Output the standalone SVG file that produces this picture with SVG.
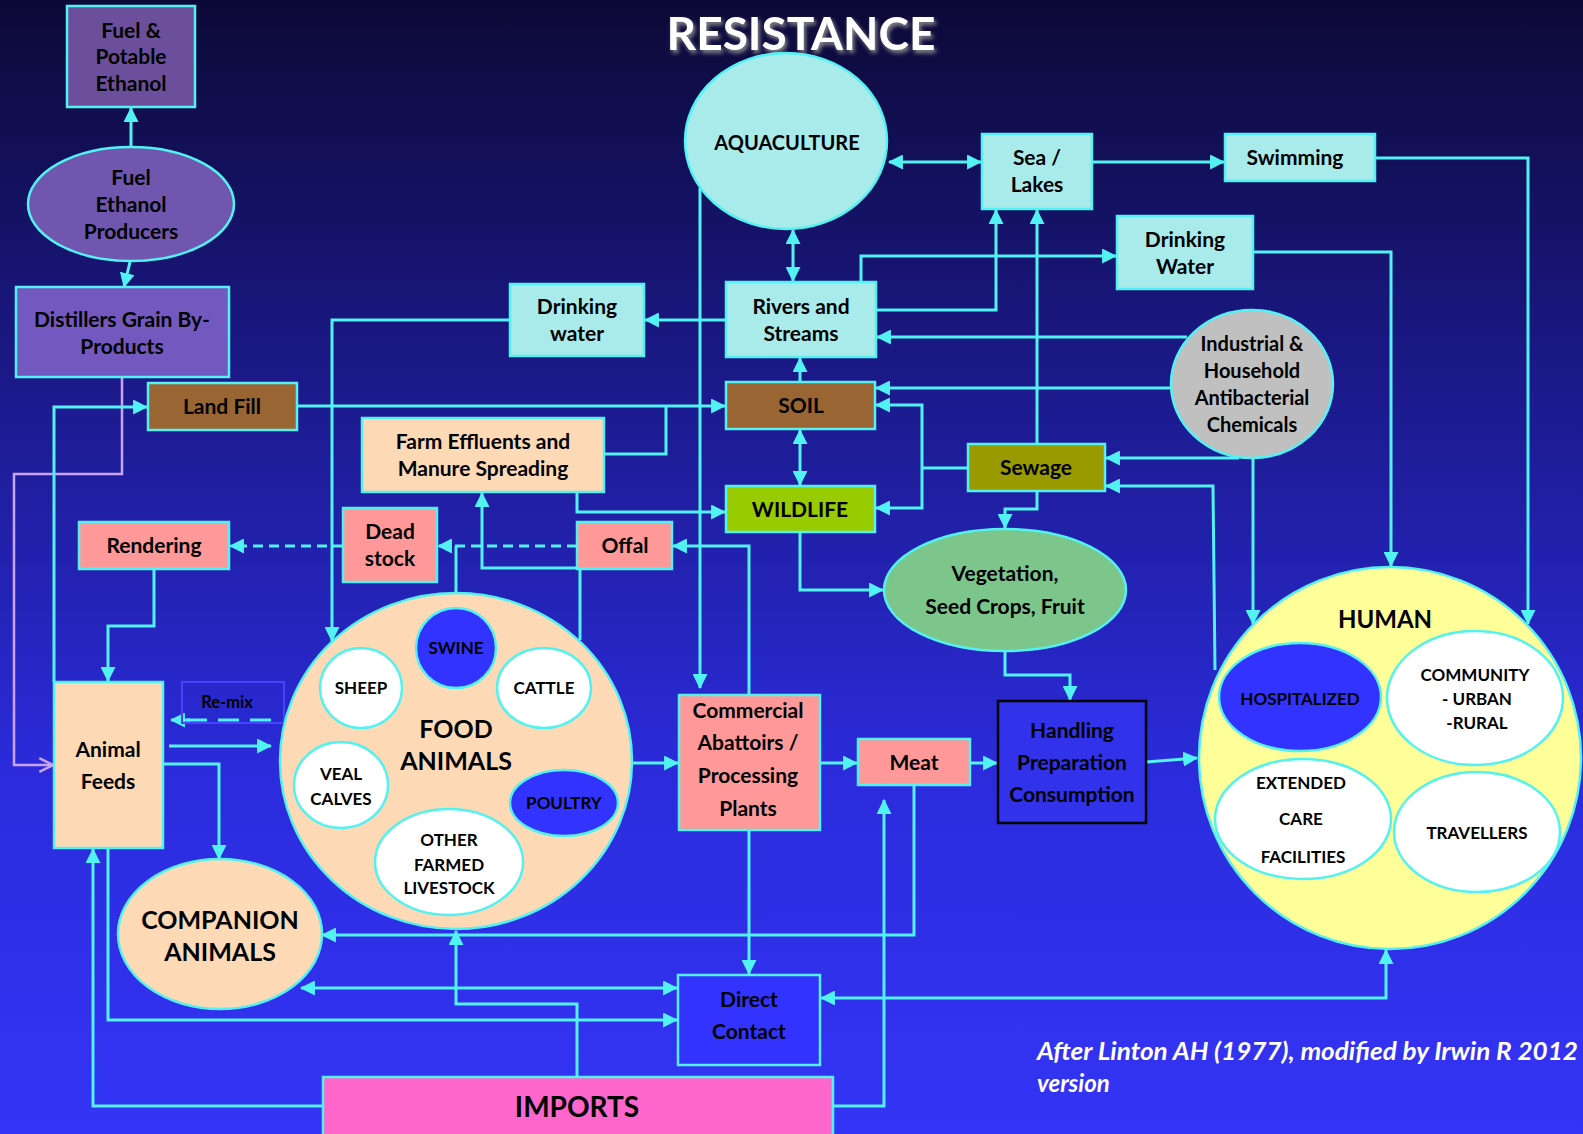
<svg xmlns="http://www.w3.org/2000/svg" width="1583" height="1134" viewBox="0 0 1583 1134">
<defs>
<linearGradient id="bg" x1="0" y1="0" x2="0" y2="1">
<stop offset="0" stop-color="#0c0936"/>
<stop offset="0.33" stop-color="#1b1988"/>
<stop offset="0.68" stop-color="#2b2bdc"/>
<stop offset="1" stop-color="#3434f6"/>
</linearGradient>
<filter id="sh" x="-10%" y="-30%" width="120%" height="160%">
<feGaussianBlur in="SourceAlpha" stdDeviation="2"/>
<feOffset dx="2" dy="3" result="b"/>
<feFlood flood-color="#888888"/>
<feComposite in2="b" operator="in"/>
<feMerge><feMergeNode/><feMergeNode in="SourceGraphic"/></feMerge>
</filter>
<marker id="a" viewBox="0 0 14 14" refX="13" refY="7" markerWidth="15" markerHeight="15" markerUnits="userSpaceOnUse" orient="auto-start-reverse">
<path d="M0,0 L14,7 L0,14 z" fill="#52f2f2"/>
</marker>
<marker id="o" viewBox="0 0 14 14" refX="13" refY="7" markerWidth="16" markerHeight="16" markerUnits="userSpaceOnUse" orient="auto">
<path d="M1,1 L13,7 L1,13" fill="none" stroke="#c9a3f5" stroke-width="2.2"/>
</marker>
<style>
.n{stroke:#52f2f2;stroke-width:2.5}
.t{font-family:Lato,'Open Sans','Liberation Sans',sans-serif;font-weight:700;fill:#000;text-anchor:middle}
.s21{font-size:21px}
.s20{font-size:20px}
.s17{font-size:17px}
.s25{font-size:25px}
.c{fill:none;stroke:#52f2f2;stroke-width:3}
.e{marker-end:url(#a)}
.b{marker-start:url(#a);marker-end:url(#a)}
.d{stroke-dasharray:10 6}
.purple1{fill:#6b4f9c}.purple2{fill:#7156b0}.purple3{fill:#7358bf}
.brown{fill:#996633}.salmon{fill:#ff9999}.peach{fill:#fdd9b5}.aqua{fill:#a9eaea}
.white{fill:#ffffff}.blue{fill:#3333ff}
.cit{font-family:Lato,'Open Sans','Liberation Sans',sans-serif;font-weight:700;font-style:italic;font-size:24px;fill:#ffffff}
</style>
</defs>
<rect x="0" y="0" width="1583" height="1134" fill="url(#bg)"/>

<text x="801" y="50" class="t" style="font-size:46px;fill:#ffffff" filter="url(#sh)">RESISTANCE</text>

<g id="connectors">
<path class="c e" d="M131,147 L131,108"/>
<path class="c e" d="M130,262 L124,287"/>
<path fill="none" stroke="#c9a3f5" stroke-width="2.5" marker-end="url(#o)" d="M122,377 L122,474 L14,474 L14,765 L53,765"/>
<path class="c e" d="M54,682 L54,407 L147,407"/>
<path class="c e" d="M297,406 L725,406"/>
<path class="c" d="M604,454 L666,454 L666,406"/>
<path class="c e" d="M577,492 L577,512 L725,512"/>
<path class="c e" d="M510,320 L332,320 L332,641"/>
<path class="c e" d="M726,320 L645,320"/>
<path class="c b" d="M793,230 L793,281"/>
<path class="c b" d="M889,162 L981,162"/>
<path class="c e" d="M1092,162 L1224,162"/>
<path class="c e" d="M1375,158 L1528,158 L1528,624"/>
<path class="c e" d="M861,282 L861,256 L1116,256"/>
<path class="c e" d="M1253,252 L1391,252 L1391,566"/>
<path class="c e" d="M876,310 L996,310 L996,210"/>
<path class="c e" d="M1187,337 L877,337"/>
<path class="c e" d="M1171,388 L876,388"/>
<path class="c e" d="M1239,458 L1106,458"/>
<path class="c e" d="M1253,458 L1253,624"/>
<path class="c e" d="M1215,670 L1213,486 L1106,486"/>
<path class="c e" d="M800,382 L800,358"/>
<path class="c b" d="M800,430 L800,485"/>
<path class="c e" d="M1037,444 L1037,210"/>
<path class="c b" d="M876,405 L922,405 L922,508 L876,508"/>
<path class="c" d="M968,468 L922,468"/>
<path class="c e" d="M1037,491 L1037,509 L1005,509 L1005,528"/>
<path class="c e" d="M800,532 L800,590 L883,590"/>
<path class="c e" d="M1005,650 L1005,675 L1070,675 L1070,700"/>
<path class="c e" d="M1146,762 L1197,758"/>
<path class="c e d" d="M343,546 L230,546"/>
<path class="c e d" d="M577,546 L438,546"/>
<path class="c" d="M456,593 L456,546"/>
<path class="c e" d="M580,640 L580,568 L482,568 L482,493"/>
<path class="c e" d="M749,695 L749,546 L673,546"/>
<path class="c e" d="M154,569 L154,626 L108,626 L108,681"/>
<path class="c" stroke-dasharray="21 11" d="M271,720 L187,720"/>
<path class="c e" d="M190,720 L171,720"/>
<path class="c e" d="M169,746 L271,746"/>
<path class="c e" d="M163,764 L219,764 L219,859"/>
<path class="c e" d="M632,763 L678,763"/>
<path class="c e" d="M700,188 L700,688"/>
<path class="c e" d="M820,763 L857,763"/>
<path class="c e" d="M970,763 L997,763"/>
<path class="c e" d="M914,785 L914,935 L322,935"/>
<path class="c b" d="M301,988 L677,988"/>
<path class="c e" d="M108,848 L108,1020 L677,1020"/>
<path class="c e" d="M323,1106 L93,1106 L93,849"/>
<path class="c e" d="M577,1077 L577,1004 L456,1004 L456,931"/>
<path class="c e" d="M833,1106 L884,1106 L884,800"/>
<path class="c e" d="M749,830 L749,974"/>
<path class="c b" d="M1386,950 L1386,998 L821,998"/>
</g>

<g id="fuel-potable"><rect class="n purple1" x="67" y="6" width="128" height="101"/>
<text class="t s21" x="131" y="38">Fuel &amp;</text><text class="t s21" x="131" y="64">Potable</text><text class="t s21" x="131" y="91">Ethanol</text></g>

<g id="fuel-producers"><ellipse class="n purple2" cx="131" cy="204" rx="103" ry="57"/>
<text class="t s21" x="131" y="185">Fuel</text><text class="t s21" x="131" y="212">Ethanol</text><text class="t s21" x="131" y="239">Producers</text></g>

<g id="distillers"><rect class="n purple3" x="16" y="287" width="213" height="90"/>
<text class="t s21" x="122" y="327">Distillers Grain By-</text><text class="t s21" x="122" y="354">Products</text></g>

<g id="landfill"><rect class="n brown" x="148" y="383" width="149" height="47"/>
<text class="t s21" x="222" y="414">Land Fill</text></g>

<g id="rendering"><rect class="n salmon" x="79" y="522" width="150" height="47"/>
<text class="t s21" x="154" y="553">Rendering</text></g>

<g id="deadstock"><rect class="n salmon" x="343" y="508" width="94" height="74"/>
<text class="t s21" x="390" y="539">Dead</text><text class="t s21" x="390" y="566">stock</text></g>

<g id="offal"><rect class="n salmon" x="577" y="522" width="95" height="47"/>
<text class="t s21" x="625" y="553">Offal</text></g>

<g id="farm-effluents"><rect class="n peach" x="362" y="418" width="242" height="74"/>
<text class="t s21" x="483" y="449">Farm Effluents and</text><text class="t s21" x="483" y="476">Manure Spreading</text></g>

<g id="drinking-water-left"><rect class="n aqua" x="510" y="284" width="134" height="72"/>
<text class="t s21" x="577" y="314">Drinking</text><text class="t s21" x="577" y="341">water</text></g>

<g id="rivers"><rect class="n aqua" x="726" y="282" width="150" height="75"/>
<text class="t s21" x="801" y="314">Rivers and</text><text class="t s21" x="801" y="341">Streams</text></g>

<g id="aquaculture"><ellipse class="n aqua" cx="786" cy="141" rx="101" ry="88"/>
<text class="t s20" x="787" y="150">AQUACULTURE</text></g>

<g id="sea-lakes"><rect class="n aqua" x="982" y="134" width="110" height="75"/>
<text class="t s21" x="1037" y="165">Sea /</text><text class="t s21" x="1037" y="192">Lakes</text></g>

<g id="swimming"><rect class="n aqua" x="1225" y="134" width="150" height="47"/>
<text class="t s21" x="1295" y="165">Swimming</text></g>

<g id="drinking-water-right"><rect class="n aqua" x="1117" y="216" width="136" height="73"/>
<text class="t s21" x="1185" y="247">Drinking</text><text class="t s21" x="1185" y="274">Water</text></g>

<g id="industrial"><ellipse class="n" fill="#c0c0c0" cx="1252" cy="384" rx="81" ry="74"/>
<text class="t s20" x="1252" y="351">Industrial &amp;</text><text class="t s20" x="1252" y="378">Household</text><text class="t s20" x="1252" y="405">Antibacterial</text><text class="t s20" x="1252" y="432">Chemicals</text></g>

<g id="soil"><rect class="n brown" x="726" y="382" width="149" height="47"/>
<text class="t s21" x="801" y="413">SOIL</text></g>

<g id="sewage"><rect class="n" fill="#999900" x="968" y="444" width="137" height="47"/>
<text class="t s21" x="1036" y="475">Sewage</text></g>

<g id="wildlife"><rect class="n" fill="#99cc00" x="726" y="486" width="149" height="46"/>
<text class="t s21" x="800" y="517">WILDLIFE</text></g>

<g id="vegetation"><ellipse class="n" fill="#7dc68b" cx="1005" cy="590" rx="121" ry="61"/>
<text class="t s21" x="1005" y="581">Vegetation,</text><text class="t s21" x="1005" y="614">Seed Crops, Fruit</text></g>

<g id="commercial"><rect class="n salmon" x="679" y="695" width="141" height="135"/>
<text class="t s21" x="748" y="718">Commercial</text><text class="t s21" x="748" y="750">Abattoirs /</text><text class="t s21" x="748" y="783">Processing</text><text class="t s21" x="748" y="816">Plants</text></g>

<g id="meat"><rect class="n salmon" x="858" y="739" width="112" height="46"/>
<text class="t s21" x="914" y="770">Meat</text></g>

<g id="handling"><rect fill="#3232ea" stroke="#000" stroke-width="2.5" x="998" y="701" width="148" height="122"/>
<text class="t s21" x="1072" y="738">Handling</text><text class="t s21" x="1072" y="770">Preparation</text><text class="t s21" x="1072" y="802">Consumption</text></g>

<g id="animal-feeds"><rect class="n peach" x="54" y="682" width="109" height="166"/>
<text class="t s21" x="108" y="757">Animal</text><text class="t s21" x="108" y="789">Feeds</text></g>

<g id="remix"><rect fill="none" stroke="#4444ff" stroke-width="2" x="182" y="682" width="102" height="41"/>
<text class="t" style="font-size:16.5px" x="227" y="708">Re-mix</text></g>

<g id="food-animals"><ellipse class="n peach" cx="456" cy="761" rx="176" ry="168"/>
<text class="t s25" x="456" y="738">FOOD</text><text class="t s25" x="456" y="770">ANIMALS</text>
<circle class="n blue" cx="456" cy="648" r="40"/><text class="t s17" x="456" y="654">SWINE</text>
<ellipse class="n white" cx="361" cy="688" rx="41" ry="40"/><text class="t s17" x="361" y="694">SHEEP</text>
<ellipse class="n white" cx="544" cy="688" rx="47" ry="40"/><text class="t s17" x="544" y="694">CATTLE</text>
<ellipse class="n white" cx="341" cy="785" rx="47" ry="43"/><text class="t s17" x="341" y="780">VEAL</text><text class="t s17" x="341" y="805">CALVES</text>
<ellipse class="n blue" cx="564" cy="803" rx="54" ry="33"/><text class="t s17" x="564" y="809">POULTRY</text>
<ellipse class="n white" cx="449" cy="862" rx="74" ry="53"/><text class="t s17" x="449" y="846">OTHER</text><text class="t s17" x="449" y="871">FARMED</text><text class="t s17" x="449" y="894">LIVESTOCK</text></g>

<g id="companion"><ellipse class="n peach" cx="220" cy="934" rx="102" ry="75"/>
<text class="t s25" x="220" y="929">COMPANION</text><text class="t s25" x="220" y="961">ANIMALS</text></g>

<g id="direct-contact"><rect class="n blue" x="678" y="975" width="142" height="90"/>
<text class="t s21" x="749" y="1007">Direct</text><text class="t s21" x="749" y="1039">Contact</text></g>

<g id="imports"><rect class="n" fill="#ff66cc" x="323" y="1077" width="510" height="62"/>
<text class="t" style="font-size:28px" x="577" y="1117">IMPORTS</text></g>

<g id="human"><circle class="n" fill="#ffff99" cx="1390" cy="758" r="191"/>
<text class="t" style="font-size:24px" x="1385" y="628">HUMAN</text>
<ellipse class="n blue" cx="1300" cy="697" rx="81" ry="54"/><text class="t s17" x="1300" y="705">HOSPITALIZED</text>
<ellipse class="n white" cx="1475" cy="698" rx="88" ry="67"/><text class="t s17" x="1475" y="681">COMMUNITY</text><text class="t s17" x="1477" y="705">- URBAN</text><text class="t s17" x="1477" y="729">-RURAL</text>
<ellipse class="n white" cx="1303" cy="819" rx="88" ry="60"/><text class="t s17" x="1301" y="789">EXTENDED</text><text class="t s17" x="1301" y="825">CARE</text><text class="t s17" x="1303" y="863">FACILITIES</text>
<ellipse class="n white" cx="1477" cy="832" rx="83" ry="60"/><text class="t s17" x="1477" y="839">TRAVELLERS</text></g>

<g id="citation">
<text x="1037" y="1060" class="cit" textLength="541" lengthAdjust="spacingAndGlyphs">After Linton AH (1977), modified by Irwin R 2012</text>
<text x="1037" y="1092" class="cit">version</text>
</g>
</svg>
